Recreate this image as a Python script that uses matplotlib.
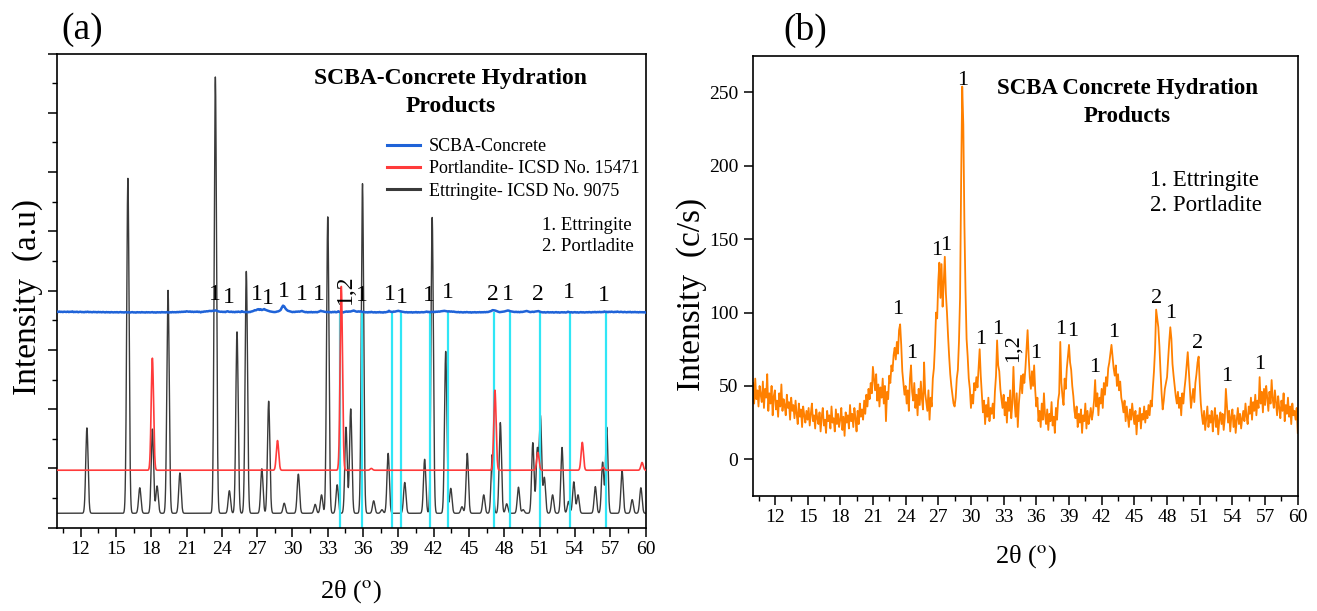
import matplotlib.pyplot as plt
from matplotlib.ticker import MultipleLocator, NullFormatter
import numpy as np


# Times-like font everywhere, stix for the superscript in the axis labels
plt.rcParams["font.family"] = ["Liberation Serif", "DejaVu Serif"]
plt.rcParams["mathtext.fontset"] = "stix"


#----------Measured pattern of the SCBA concrete (c/s), 10-60 deg, 0.1 deg step----------#

counts = [
    52, 38, 55, 41, 47, 36, 50, 44, 39, 53,      # 10
    35, 48, 42, 58, 33, 45, 38, 50, 30, 43,      # 11
    47, 34, 40, 29, 45, 36, 51, 33, 41, 37,      # 12
    30, 44, 35, 39, 27, 42, 33, 37, 28, 40,      # 13
    31, 24, 38, 29, 34, 22, 36, 30, 25, 33,      # 14
    27, 35, 23, 31, 38, 26, 30, 21, 34, 28,      # 15
    24, 32, 19, 29, 35, 23, 27, 18, 33, 26,      # 16
    30, 21, 36, 25, 28, 19, 34, 24, 31, 22,      # 17
    27, 35, 20, 29, 16, 32, 25, 30, 21, 37,      # 18
    26, 31, 22, 35, 28, 19, 33, 24, 38, 29,      # 19
    34, 27, 40, 31, 44, 36, 48, 41, 52, 45,      # 20
    63, 55, 47, 58, 40, 51, 36, 49, 42, 55,      # 21
    38, 50, 26, 46, 41, 57, 52, 64, 60, 71,      # 22
    76, 68, 80, 72, 88, 92, 78, 60, 52, 44,      # 23
    50, 38, 47, 33, 55, 64, 46, 40, 52, 35,      # 24
    44, 30, 48, 37, 53, 41, 34, 66, 45, 39,      # 25
    33, 47, 27, 42, 36, 55, 62, 78, 100, 96,     # 26
    121, 134, 110, 133, 104, 120, 138, 113, 100, 84,   # 27
    70, 58, 50, 44, 38, 36, 42, 55, 61, 80,      # 28
    110, 190, 254, 228, 160, 115, 82, 70, 55, 48,      # 29
    35, 44, 38, 52, 47, 56, 49, 62, 75, 57,      # 30
    45, 32, 40, 24, 37, 29, 42, 26, 35, 31,      # 31
    38, 28, 46, 57, 81, 64, 60, 48, 41, 35,      # 32
    44, 30, 39, 25, 42, 33, 47, 28, 38, 63,      # 33
    40, 29, 45, 22, 38, 48, 57, 45, 58, 52,      # 34
    62, 75, 88, 70, 56, 48, 60, 50, 64, 47,      # 35
    36, 42, 26, 33, 22, 38, 27, 45, 30, 24,      # 36
    34, 20, 31, 26, 39, 23, 29, 18, 35, 27,      # 37
    40, 45, 80, 52, 43, 37, 55, 48, 62, 70,      # 38
    78, 66, 61, 50, 43, 33, 28, 36, 22, 31,      # 39
    25, 34, 18, 30, 26, 38, 21, 33, 24, 29,      # 40
    35, 27, 32, 40, 54, 36, 45, 30, 42, 38,      # 41
    48, 35, 52, 44, 56, 50, 62, 66, 72, 78,      # 42
    70, 62, 57, 64, 50, 58, 47, 53, 42, 38,      # 43
    32, 40, 26, 36, 29, 22, 34, 27, 38, 30,      # 44
    24, 33, 17, 30, 26, 35, 21, 31, 27, 36,      # 45
    25, 33, 28, 37, 30, 40, 36, 49, 60, 75,      # 46
    102, 96, 90, 77, 60, 45, 34, 40, 48, 52,     # 47
    56, 68, 80, 90, 82, 65, 57, 50, 43, 38,      # 48
    46, 35, 42, 30, 45, 38, 48, 55, 64, 73,      # 49
    60, 47, 35, 42, 48, 39, 52, 58, 66, 70,      # 50
    52, 38, 30, 24, 33, 20, 28, 36, 22, 30,      # 51
    25, 33, 19, 28, 35, 22, 30, 17, 27, 32,      # 52
    24, 31, 20, 28, 48, 36, 25, 33, 19, 29,      # 53
    34, 22, 30, 18, 27, 35, 24, 31, 21, 28,      # 54
    33, 26, 38, 29, 24, 36, 31, 42, 27, 39,      # 55
    33, 44, 30, 40, 35, 56, 38, 46, 32, 48,      # 56
    37, 50, 42, 33, 46, 38, 54, 41, 35, 47,      # 57
    39, 30, 43, 35, 28, 40, 33, 45, 26, 37,      # 58
    31, 42, 29, 36, 24, 38, 30, 33, 27, 35,      # 59
    18]                                          # 60

two_theta = np.round(np.arange(10, 60.05, 0.1), 1)


#----------Reference patterns (ICSD), peak position and relative intensity----------#

ett_pos = [12.54, 16.02, 17.03, 18.1, 18.5, 19.43, 20.44, 23.45, 24.64, 25.29,
           26.08, 27.4, 27.98, 29.3, 30.5, 31.93, 32.47, 33.0, 33.8, 34.55,
           34.95, 35.95, 36.9, 37.6, 38.13, 39.54, 41.23, 41.87, 43.02, 43.45,
           44.4, 44.85, 46.25, 46.97, 47.66, 48.2, 49.2, 49.6, 50.42, 50.8,
           51.07, 51.4, 52.1, 52.9, 53.45, 53.9, 54.26, 55.73, 56.35, 56.7,
           58.0, 58.86, 59.6]
ett_int = [1.44, 5.65, 0.43, 1.42, 0.46, 3.76, 0.68, 7.36, 0.38, 3.06,
           4.08, 0.75, 1.89, 0.17, 0.66, 0.15, 0.31, 5.0, 0.48, 1.45,
           1.76, 5.56, 0.21, 0.06, 1.01, 0.52, 0.91, 4.99, 2.73, 0.42,
           0.11, 1.01, 0.31, 0.99, 1.53, 0.16, 0.44, 0.06, 1.19, 1.06,
           1.62, 0.6, 0.31, 1.11, 0.2, 0.53, 0.31, 0.45, 0.86, 1.45,
           0.72, 0.23, 0.43]

por_pos = [18.1, 28.73, 34.15, 36.7, 47.2, 50.85, 54.62, 56.4, 59.7]
por_int = [1.89, 0.5, 3.1, 0.03, 1.35, 0.3, 0.47, 0.05, 0.13]

# vertical offsets of the stacked curves in panel (a)
ett_base = 0.244
por_base = 0.97
scba_base = 3.62
scba_scale = 0.0005

# marker lines dropped from the measured curve
mark_pos = [34.05, 35.88, 38.46, 39.18, 41.66, 43.2, 47.15, 48.52, 51.0, 53.62, 56.67]


#----------Phase labels----------#

lab_a_x = [23.38, 24.57, 26.95, 27.95, 29.31, 30.78, 32.25, 34.5, 35.88, 38.28,
           39.3, 41.59, 43.2, 47.0, 48.34, 50.89, 53.47, 56.49]
lab_a_y = [3.94, 3.89, 3.94, 3.86, 3.98, 3.94, 3.93, 4.03, 3.92, 3.94,
           3.89, 3.92, 3.96, 3.93, 3.94, 3.93, 3.97, 3.92]
lab_a_txt = ["1", "1", "1", "1", "1", "1", "1", "1,2", "1", "1",
             "1", "1", "1", "2", "1", "2", "1", "1"]

lab_b_x = [23.29, 24.57, 26.87, 27.72, 29.22, 30.91, 32.47, 33.9, 35.96, 38.28,
           39.35, 41.4, 43.09, 47.07, 48.29, 50.83, 53.5, 56.46]
lab_b_y = [101.8, 72.3, 142.5, 146, 258, 81.4, 88.7, 75.7, 72.3, 88.2,
           87, 62.5, 86.7, 109.8, 99.6, 79.1, 56.4, 64.3]
lab_b_txt = ["1", "1", "1", "1", "1", "1", "1", "1,2", "1", "1",
             "1", "1", "1", "2", "1", "2", "1", "1"]


# simulated profile from a peak list
grid = np.linspace(10, 60, 5001)

def profile(pos, inten, base, width=0.1):
    y = np.full_like(grid, base)
    for p, h in zip(pos, inten):
        y += h * np.exp(-0.5 * ((grid - p) / width) ** 2)
    return y


fig = plt.figure(figsize=(13.17, 6.11), dpi=100)
ax1 = fig.add_axes([0.0433, 0.1363, 0.4469, 0.7761])
ax2 = fig.add_axes([0.5718, 0.1882, 0.4136, 0.7206])


#----------Panel (a): measured curve against the reference patterns----------#

ax1.plot(grid, profile(ett_pos, ett_int, ett_base), color="#3a3a3a", lw=1.0,
         label="Ettringite- ICSD No. 9075", zorder=2)
ax1.vlines(mark_pos, 0, scba_base + 0.02, color="#30e6f6", lw=1.6, zorder=2.5)
ax1.plot(two_theta, scba_base + np.array(counts) * scba_scale, color="#1f63d8", lw=1.8,
         label="SCBA-Concrete", zorder=3)
ax1.plot(grid, profile(por_pos, por_int, por_base), color="#ff3b3b", lw=1.2,
         label="Portlandite- ICSD No. 15471", zorder=3.5)

for x, y, t in zip(lab_a_x, lab_a_y, lab_a_txt):
    ax1.text(x, y, t, fontsize=17, ha="center", va="center",
             rotation=90 if t == "1,2" else 0, zorder=5)

ax1.set_xlim(10, 60)
ax1.set_ylim(0, 8)
ax1.xaxis.set_major_locator(MultipleLocator(3))
ax1.xaxis.set_minor_locator(MultipleLocator(1.5))
ax1.yaxis.set_major_locator(MultipleLocator(1))
ax1.yaxis.set_minor_locator(MultipleLocator(0.5))
ax1.yaxis.set_major_formatter(NullFormatter())

handles, names = ax1.get_legend_handles_labels()
order = [1, 2, 0]
leg = ax1.legend([handles[i] for i in order], [names[i] for i in order],
                 loc="upper left", bbox_to_anchor=(0.561, 0.822), frameon=False,
                 fontsize=13, handlelength=1.8, handletextpad=0.5,
                 labelspacing=0.3, borderpad=0, borderaxespad=0)
for line in leg.get_lines():
    line.set_linewidth(2.2)

ax1.text(0.669, 0.918, "SCBA-Concrete Hydration\nProducts", transform=ax1.transAxes,
         fontsize=17, fontweight="bold", ha="center", va="center", linespacing=1.45)
ax1.text(0.824, 0.615, "1. Ettringite\n2. Portladite", transform=ax1.transAxes,
         fontsize=13.5, ha="left", va="center", linespacing=1.25)

ax1.set_xlabel(r"2θ ($^{\rm o}$)", fontsize=19)
ax1.set_ylabel("Intensity  (a.u)", fontsize=24)
ax1.xaxis.set_label_coords(0.5, -0.106)
ax1.yaxis.set_label_coords(-0.024, 0.487)


#----------Panel (b): measured pattern----------#

ax2.plot(two_theta, counts, color="#ff8000", lw=1.3)

for x, y, t in zip(lab_b_x, lab_b_y, lab_b_txt):
    ax2.text(x, y, t, fontsize=16, ha="center", va="center",
             rotation=90 if t == "1,2" else 0)

ax2.set_xlim(10, 60)
ax2.set_ylim(-25, 275)
ax2.xaxis.set_major_locator(MultipleLocator(3))
ax2.xaxis.set_minor_locator(MultipleLocator(1.5))
ax2.yaxis.set_major_locator(MultipleLocator(50))

ax2.text(0.6875, 0.893, "SCBA Concrete Hydration\nProducts", transform=ax2.transAxes,
         fontsize=16.5, fontweight="bold", ha="center", va="center", linespacing=1.45)
ax2.text(0.728, 0.688, "1. Ettringite\n2. Portladite", transform=ax2.transAxes,
         fontsize=16.5, ha="left", va="center", linespacing=1.3)

ax2.set_xlabel(r"2θ ($^{\rm o}$)", fontsize=19)
ax2.set_ylabel("Intensity  (c/s)", fontsize=24)
ax2.xaxis.set_label_coords(0.5, -0.107)
ax2.yaxis.set_label_coords(-0.084, 0.457)


# frame and ticks for both panels
for ax in (ax1, ax2):
    for s in ax.spines.values():
        s.set_linewidth(1.2)
    ax.tick_params(which="major", direction="out", length=6.5, width=1.1,
                   labelsize=14, pad=3)
    ax.tick_params(which="minor", direction="out", length=3.5, width=1.0)
ax2.tick_params(axis="y", pad=4)
ax2.yaxis.set_minor_locator(MultipleLocator(1000))

fig.text(0.0463, 0.951, "(a)", fontsize=27, ha="left", va="center")
fig.text(0.5945, 0.951, "(b)", fontsize=27, ha="left", va="center")

plt.savefig("out.png", dpi=100)
